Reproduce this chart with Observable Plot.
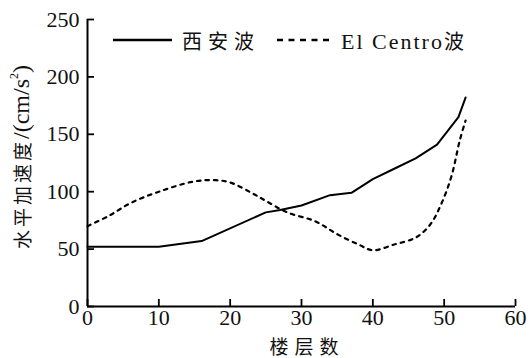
<!DOCTYPE html>
<html><head><meta charset="utf-8">
<script src="https://cdn.jsdelivr.net/npm/d3@7"></script>
<script src="https://cdn.jsdelivr.net/npm/@observablehq/plot@0.6"></script>
<style>
body{margin:0;background:#fff;}
#wrap{position:relative;width:532px;height:358px;overflow:hidden;}
#wrap svg text{font-family:"Liberation Serif","Times New Roman",serif !important;}
.leg{position:absolute;top:28px;height:24px;display:flex;align-items:center;font-size:20px;color:#111;white-space:nowrap;}
.zh{font-family:"Noto Sans CJK SC",sans-serif;}
.lat{font-family:"Liberation Serif",serif;}
.ylab{position:absolute;left:21px;top:157px;transform:translate(-50%,-50%) rotate(-90deg);white-space:nowrap;color:#111;display:flex;align-items:center;line-height:1;}
.xlab{position:absolute;left:307px;top:345px;transform:translate(-50%,-50%);white-space:nowrap;color:#111;font-size:19px;letter-spacing:6px;line-height:1;}
sup{font-size:0.5em;vertical-align:0.9em;line-height:0;}
</style></head><body><div id="wrap"></div>
<script>
// 西安波
const xianFloors = [0, 10, 16, 25, 27, 30, 34, 37, 40, 43, 46, 49, 52, 53];
const xianAccel  = [52, 52, 57, 82, 84, 88, 97, 99, 111, 120, 129, 141, 165, 182];
// El Centro波
const elFloors = [0, 3, 6, 10, 15, 18, 20, 23, 25, 28, 32, 35, 38, 40, 43, 46, 48, 49.5, 51, 52.2, 53];
const elAccel  = [70, 79, 90, 100, 109, 110, 108, 99, 92, 82, 74, 63, 54, 49, 54, 60, 71, 88, 113, 145, 162];
const xTicks = [0, 10, 20, 30, 40, 50, 60];
const yTicks = [0, 50, 100, 150, 200, 250];
const seriesNames = ["西安波", "El Centro波"];
const xLabel = "楼层数";
const yLabelZh = "水平加速度";
const yLabelUnit = "/(cm/s";
const yLabelSup = "2";

const xian = xianFloors.map((f, i) => ({floor: f, acc: xianAccel[i]}));
const el = elFloors.map((f, i) => ({floor: f, acc: elAccel[i]}));

const W = 532, H = 358, mL = 87, mR = 17, mT = 19, mB = 52, tick = 7;
const serif = "Liberation Serif";
const chart = Plot.plot({
  width: W, height: H,
  marginLeft: mL, marginRight: mR, marginTop: mT, marginBottom: mB,
  style: "font-size:22px;font-family:'Liberation Serif','Times New Roman',serif;color:#111;background:#fff;",
  x: {domain: [0, 60]},
  y: {domain: [0, 250]},
  marks: [
    Plot.axisX({ticks: xTicks, tickSize: 0, tickPadding: 3, tickFormat: d => d, label: null, fontFamily: serif, fontSize: 22}),
    Plot.axisY({ticks: yTicks, tickSize: 0, tickPadding: 8, tickFormat: d => d, label: null, fontFamily: serif, fontSize: 22}),
    Plot.tickX(xTicks, {x: d => d, stroke: "#000", strokeWidth: 1.8, insetTop: H - mT - mB - tick}),
    Plot.tickY(yTicks, {y: d => d, stroke: "#000", strokeWidth: 1.8, insetRight: W - mL - mR - tick}),
    Plot.ruleX([0], {stroke: "#000", strokeWidth: 2}),
    Plot.ruleY([0], {stroke: "#000", strokeWidth: 2}),
    Plot.line(el, {x: "floor", y: "acc", stroke: "#000", strokeWidth: 2.2, strokeDasharray: "3.5,5", curve: "catmull-rom"}),
    Plot.line(xian, {x: "floor", y: "acc", stroke: "#000", strokeWidth: 2})
  ]
});
const wrap = document.getElementById("wrap");
wrap.appendChild(chart);

// axis titles
const yl = document.createElement("div");
yl.className = "ylab";
yl.innerHTML = `<span class="zh" style="font-size:19px;letter-spacing:3px">${yLabelZh}</span><span class="lat" style="font-size:24px">${yLabelUnit}<sup>${yLabelSup}</sup>)</span>`;
wrap.appendChild(yl);
const xl = document.createElement("div");
xl.className = "xlab zh";
xl.textContent = xLabel;
wrap.appendChild(xl);

function legendItem(left, sampleW, dash, name, gap) {
  const d = document.createElement("div");
  d.className = "leg";
  d.style.left = left + "px";
  const ns = "http://www.w3.org/2000/svg";
  const s = document.createElementNS(ns, "svg");
  s.setAttribute("width", sampleW); s.setAttribute("height", 24);
  const l = document.createElementNS(ns, "line");
  l.setAttribute("x1", 0); l.setAttribute("x2", sampleW);
  l.setAttribute("y1", 12); l.setAttribute("y2", 12);
  l.setAttribute("stroke", "#000"); l.setAttribute("stroke-width", 2.4);
  if (dash) l.setAttribute("stroke-dasharray", dash);
  s.appendChild(l);
  d.appendChild(s);
  const t = document.createElement("span");
  t.style.marginLeft = gap + "px";
  const m = name.match(/^([A-Za-z ]*)(.*)$/);
  if (m[1]) { const a = document.createElement("span"); a.className = "lat"; a.style.fontSize = "22px"; a.style.letterSpacing = "2px"; a.textContent = m[1]; t.appendChild(a); }
  const b = document.createElement("span"); b.className = "zh"; b.style.letterSpacing = "6px"; b.textContent = m[2]; t.appendChild(b);
  d.appendChild(t);
  wrap.appendChild(d);
}
legendItem(113, 59, null, seriesNames[0], 10);
legendItem(277, 54, "6,5.5", seriesNames[1], 10);
</script></body></html>
